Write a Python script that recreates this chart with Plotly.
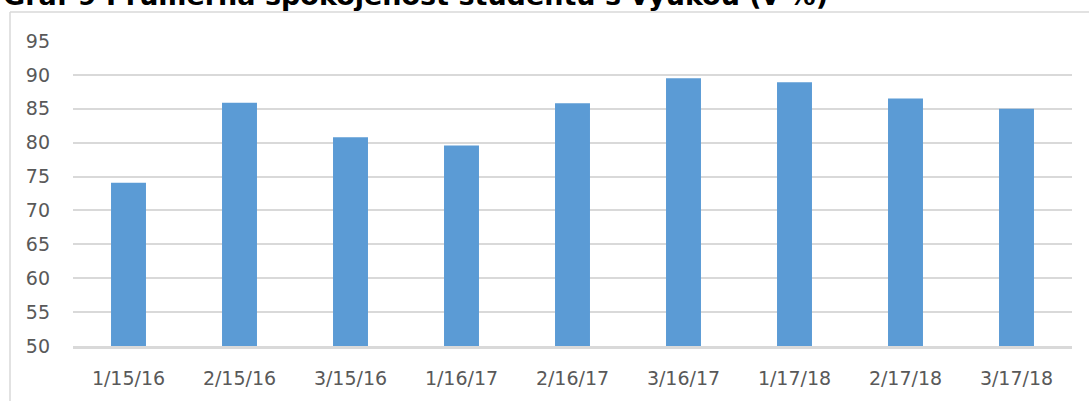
import plotly.graph_objects as go

categories = ["1/15/16", "2/15/16", "3/15/16", "1/16/17", "2/16/17", "3/16/17", "1/17/18", "2/17/18", "3/17/18"]
values = [74.1, 85.9, 80.8, 79.6, 85.8, 89.5, 88.9, 86.5, 85.0]
y_ticks = [50, 55, 60, 65, 70, 75, 80, 85, 90, 95]
title_text = "Graf 9 Průměrná spokojenost studentů s výukou (v %)"

W, H = 1089, 401
L, R, T, B = 73, 17, 41, 55
PW, PH = W - L - R, H - T - B

def px_x(p):
    return (p - L) / PW

def px_y(p):
    return (H - B - p) / PH

fig = go.Figure(go.Bar(
    x=categories, y=values,
    marker=dict(color="#5B9BD5", line=dict(width=0)),
    hoverinfo="x+y",
))

fig.update_layout(
    width=W, height=H,
    margin=dict(l=L, r=R, t=T, b=B),
    paper_bgcolor="white", plot_bgcolor="white",
    bargap=0.685,
    showlegend=False,
    font=dict(family="DejaVu Sans, Verdana, sans-serif", color="#595959", size=19),
)
fig.update_yaxes(
    range=[50, 95], tickvals=y_ticks, showgrid=True, gridcolor="#D9D9D9", gridwidth=1.5,
    zeroline=False, showline=False, ticks="", ticklabelstandoff=22,
    tickfont=dict(size=19, color="#595959"),
)
fig.update_xaxes(
    type="category", showgrid=False, showline=True, linecolor="#D9D9D9", linewidth=2.5,
    ticks="", ticklabelstandoff=13, tickfont=dict(size=19, color="#595959"),
)

# chart area border (left and top visible)
fig.add_shape(type="line", xref="paper", yref="paper",
              x0=px_x(10), x1=px_x(1095), y0=px_y(12), y1=px_y(12),
              line=dict(color="#D9D9D9", width=1.5))
fig.add_shape(type="line", xref="paper", yref="paper",
              x0=px_x(10), x1=px_x(10), y0=px_y(12), y1=px_y(410),
              line=dict(color="#D9D9D9", width=1.5))

fig.add_annotation(
    text="<b>" + title_text + "</b>", xref="paper", yref="paper",
    x=px_x(1), y=px_y(-4.5), xanchor="left", yanchor="middle", showarrow=False,
    font=dict(family="DejaVu Sans, Verdana, sans-serif", size=27, color="#000000"),
)

fig.write_html(
    "out.html",
    config={"displayModeBar": False},
    post_script="document.body.style.margin='0';document.body.style.overflow='hidden';",
)
